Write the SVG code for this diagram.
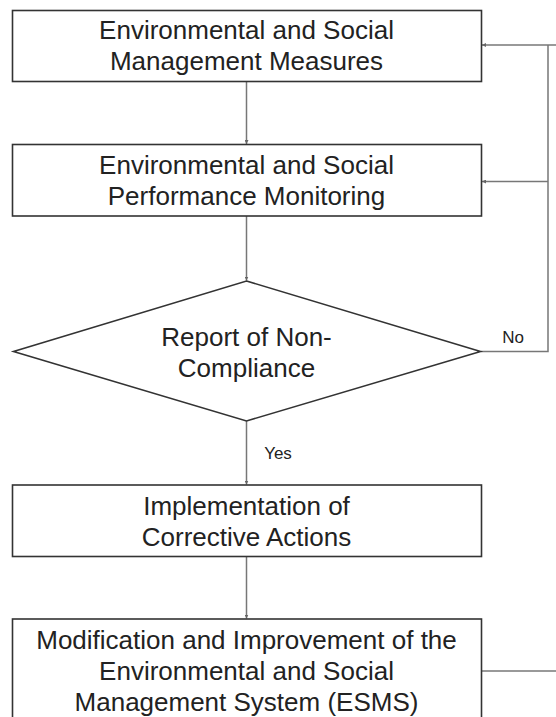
<svg xmlns="http://www.w3.org/2000/svg" width="556" height="717" viewBox="0 0 556 717">
  <style>
    .box { fill: #ffffff; stroke: #333333; stroke-width: 1.6; }
    .lbl { font-family: "Liberation Sans", Arial, sans-serif; font-size: 26px; fill: #222222; text-anchor: middle; }
    .tag { font-family: "Liberation Sans", Arial, sans-serif; font-size: 17px; fill: #222222; text-anchor: middle; }
    .conn { fill: none; stroke: #777777; stroke-width: 1.5; }
  </style>
  <defs>
    <marker id="arrow" viewBox="0 0 6 6" refX="6" refY="3" markerWidth="4" markerHeight="4" orient="auto" markerUnits="userSpaceOnUse">
      <path d="M0,0 L6,3 L0,6 z" fill="#666666"/>
    </marker>
  </defs>
  <rect width="556" height="717" fill="#ffffff"/>

  <!-- connectors -->
  <g id="connectors">
    <line class="conn" x1="246.5" y1="82" x2="246.5" y2="144" marker-end="url(#arrow)"/>
    <line class="conn" x1="246.5" y1="216" x2="246.5" y2="280.5" marker-end="url(#arrow)"/>
    <line class="conn" x1="246.5" y1="421" x2="246.5" y2="484.5" marker-end="url(#arrow)"/>
    <line class="conn" x1="246.5" y1="557" x2="246.5" y2="618.5" marker-end="url(#arrow)"/>
    <!-- No branch: back up to the first two steps -->
    <polyline class="conn" points="481,351.5 548,351.5 548,45"/>
    <line class="conn" x1="556" y1="45" x2="482" y2="45" marker-end="url(#arrow)"/>
    <line class="conn" x1="548" y1="181.5" x2="482" y2="181.5" marker-end="url(#arrow)"/>
    <!-- feedback from the ESMS update -->
    <line class="conn" x1="481.5" y1="671" x2="556" y2="671"/>
    <text class="tag" x="513" y="343">No</text>
    <text class="tag" x="278" y="459">Yes</text>
  </g>

  <g id="measures">
    <rect class="box" x="12.5" y="10.5" width="469" height="71"/>
    <text class="lbl" x="246.5" y="39">Environmental and Social</text>
    <text class="lbl" x="246.5" y="70">Management Measures</text>
  </g>

  <g id="monitoring">
    <rect class="box" x="12.5" y="144.5" width="469" height="71.5"/>
    <text class="lbl" x="246.5" y="174">Environmental and Social</text>
    <text class="lbl" x="246.5" y="205">Performance Monitoring</text>
  </g>

  <g id="non-compliance">
    <polygon class="box" points="246.5,281 480.5,351.5 246.5,421 13.5,351.5"/>
    <text class="lbl" x="246.5" y="346">Report of Non-</text>
    <text class="lbl" x="246.5" y="377">Compliance</text>
  </g>

  <g id="corrective">
    <rect class="box" x="12.5" y="485" width="469" height="71.5"/>
    <text class="lbl" x="246.5" y="515">Implementation of</text>
    <text class="lbl" x="246.5" y="546">Corrective Actions</text>
  </g>

  <g id="esms">
    <rect class="box" x="12.5" y="619" width="469" height="110"/>
    <text class="lbl" x="246.5" y="649">Modification and Improvement of the</text>
    <text class="lbl" x="246.5" y="680">Environmental and Social</text>
    <text class="lbl" x="246.5" y="711">Management System (ESMS)</text>
  </g>
</svg>
